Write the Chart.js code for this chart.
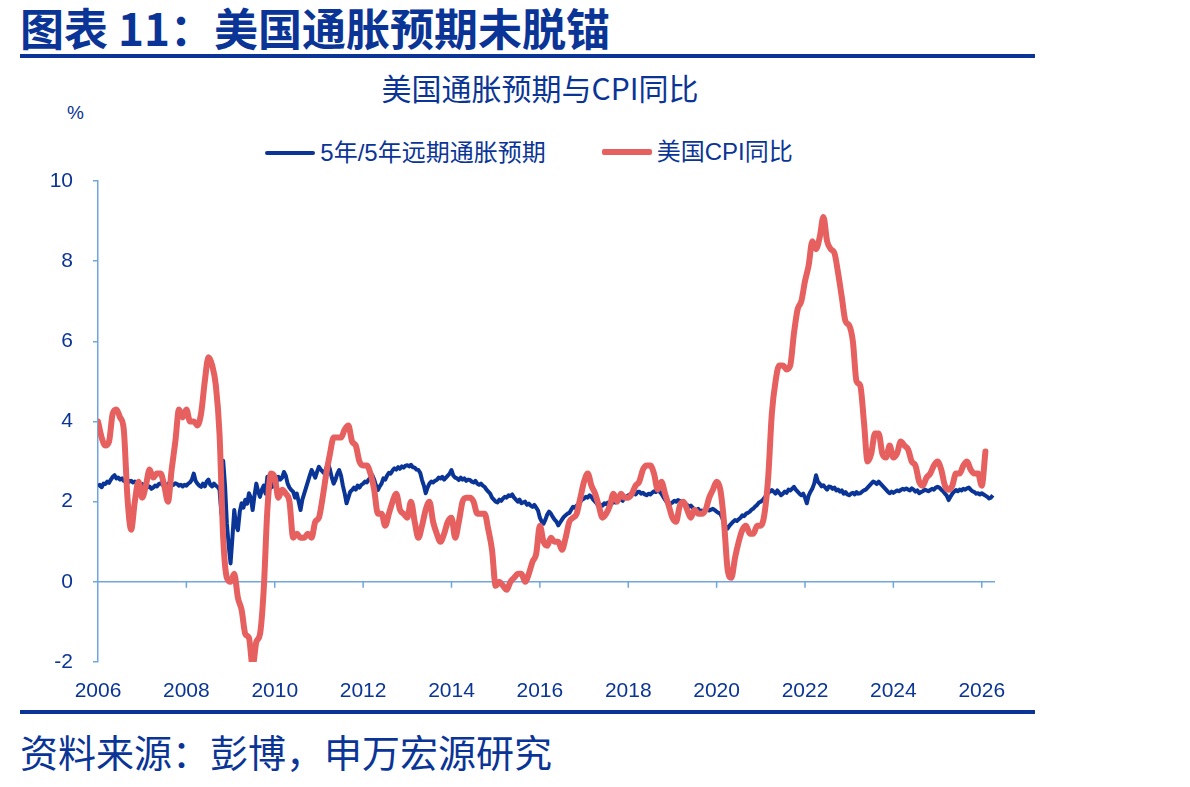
<!DOCTYPE html>
<html lang="zh">
<head>
  <meta charset="UTF-8">
  <title>美国通胀预期未脱锚</title>
  <script src="https://cdn.jsdelivr.net/npm/chart.js"></script>
  <style>
    body { margin: 0; width: 1190px; height: 787px; background: #fff; position: relative; overflow: hidden;
           font-family: "Liberation Sans", "Noto Sans CJK SC", sans-serif; color: #0a3596; }
    .abs { position: absolute; white-space: nowrap; }
    #title { left: 20px; top: 0px; font: bold 44px "Noto Sans CJK SC", sans-serif; line-height: 54px; }
    .rule { position: absolute; left: 20px; width: 1015px; height: 4px; background: #0a3596; }
    #subtitle { left: 0; width: 1080px; text-align: center; top: 68px; font: 30px "Noto Sans CJK SC", sans-serif; line-height: 38px; }
    #unit { left: 67px; top: 102px; font: 19px "Liberation Sans", sans-serif; }
    #legend { left: 0; width: 1058px; top: 132px; text-align: center; font: 24px "Liberation Sans", "Noto Sans CJK SC", sans-serif; line-height: 30px; }
    #legend span.item { display: inline-flex; align-items: center; margin: 0 28px; }
    #legend i { display: inline-block; width: 50px; margin-right: 5px; }
    #source { left: 20px; top: 727px; font: 38px "Noto Sans CJK SC", sans-serif; line-height: 48px; }
    #wrap { position: absolute; left: 0; top: 160px; width: 1040px; height: 545px; }
  </style>
</head>
<body>
  <div id="title" class="abs">图表 11：美国通胀预期未脱锚</div>
  <div class="rule" style="top: 54px;"></div>
  <div id="subtitle" class="abs">美国通胀预期与CPI同比</div>
  <div id="unit" class="abs">%</div>
  <div id="legend" class="abs"></div>
  <div id="wrap"><canvas id="chart"></canvas></div>
  <div class="rule" style="top: 710px;"></div>
  <div id="source" class="abs">资料来源：彭博，申万宏源研究</div>

  <script>
    // 横轴刻度（年份）
    const yearTicks = [2006, 2008, 2010, 2012, 2014, 2016, 2018, 2020, 2022, 2024, 2026];
    const yTicks = [-2, 0, 2, 4, 6, 8, 10];

    // 美国CPI同比，月度，2006年1月起
    const cpiStart = 2006;
    const cpiYoY = [
      4.0, 3.6, 3.4, 3.5, 4.2, 4.3, 4.1, 3.8, 2.1, 1.3, 2.0, 2.5,
      2.1, 2.4, 2.8, 2.6, 2.7, 2.7, 2.4, 2.0, 2.8, 3.5, 4.3, 4.1,
      4.3, 4.0, 4.0, 3.9, 4.2, 5.0, 5.6, 5.4, 4.9, 3.7, 1.1, 0.1,
      0.0, 0.2, -0.4, -0.7, -1.3, -1.4, -2.1, -1.5, -1.3, -0.2, 1.8, 2.7,
      2.6, 2.1, 2.3, 2.2, 2.0, 1.1, 1.2, 1.1, 1.1, 1.2, 1.1, 1.5,
      1.6, 2.1, 2.7, 3.2, 3.6, 3.6, 3.6, 3.8, 3.9, 3.5, 3.4, 3.0,
      2.9, 2.9, 2.7, 2.3, 1.7, 1.7, 1.4, 1.7, 2.0, 2.2, 1.8, 1.7,
      1.6, 2.0, 1.5, 1.1, 1.4, 1.8, 2.0, 1.5, 1.2, 1.0, 1.2, 1.5,
      1.6, 1.1, 1.5, 2.0, 2.1, 2.1, 2.0, 1.7, 1.7, 1.7, 1.3, 0.8,
      -0.1, 0.0, -0.1, -0.2, 0.0, 0.1, 0.2, 0.2, 0.0, 0.2, 0.5, 0.7,
      1.4, 1.0, 0.9, 1.1, 1.0, 1.0, 0.8, 1.1, 1.5, 1.6, 1.7, 2.1,
      2.5, 2.7, 2.4, 2.2, 1.9, 1.6, 1.7, 1.9, 2.2, 2.0, 2.2, 2.1,
      2.1, 2.2, 2.4, 2.5, 2.8, 2.9, 2.9, 2.7, 2.3, 2.5, 2.2, 1.9,
      1.6, 1.5, 1.9, 2.0, 1.8, 1.6, 1.8, 1.7, 1.7, 1.8, 2.1, 2.3,
      2.5, 2.3, 1.5, 0.3, 0.1, 0.6, 1.0, 1.3, 1.4, 1.2, 1.2, 1.4,
      1.4, 1.7, 2.6, 4.2, 5.0, 5.4, 5.4, 5.3, 5.4, 6.2, 6.8, 7.0,
      7.5, 7.9, 8.5, 8.3, 8.6, 9.1, 8.5, 8.3, 8.2, 7.7, 7.1, 6.5,
      6.4, 6.0, 5.0, 4.9, 4.0, 3.0, 3.2, 3.7, 3.7, 3.2, 3.1, 3.4,
      3.1, 3.2, 3.5, 3.4, 3.3, 3.0, 2.9, 2.5, 2.4, 2.6, 2.7, 2.9,
      3.0, 2.8, 2.4, 2.3, 2.4, 2.7, 2.7, 2.9, 3.0, 2.8, 2.7, 2.7,
      2.4, 3.25
    ];

    // 5年/5年远期通胀预期，半月频，2006年1月起
    const fwdStart = 2006;
    const fwd5y5y = [
      2.38, 2.42, 2.36, 2.45, 2.44, 2.50, 2.47, 2.55, 2.62, 2.66, 2.58, 2.60, 2.55, 2.58, 2.52, 2.56, 2.54, 2.50, 2.52, 2.48, 2.50, 2.46, 2.48, 2.45,
      2.44, 2.40, 2.42, 2.36, 2.38, 2.32, 2.35, 2.40, 2.38, 2.44, 2.46, 2.42, 2.45, 2.40, 2.44, 2.48, 2.45, 2.42, 2.46, 2.44, 2.40, 2.42, 2.38, 2.42,
      2.40, 2.45, 2.48, 2.55, 2.70, 2.52, 2.45, 2.40, 2.37, 2.45, 2.38, 2.50, 2.55, 2.42, 2.38, 2.45, 2.40, 2.37, 2.30, 1.70, 3.02, 2.40, 1.45, 0.90,
      0.46, 1.10, 1.79, 1.40, 1.29, 1.75, 1.96, 1.85, 2.05, 1.95, 2.21, 2.10, 1.79, 2.15, 2.45, 2.25, 2.12, 2.30, 2.40, 2.20, 2.62, 2.45, 2.35, 2.50,
      2.37, 2.50, 2.62, 2.55, 2.60, 2.74, 2.65, 2.45, 2.35, 2.29, 2.25, 2.10, 2.20, 2.00, 1.79, 2.05, 2.20, 2.35, 2.50, 2.65, 2.79, 2.70, 2.60, 2.75,
      2.87, 2.80, 2.75, 2.70, 2.85, 2.95, 2.80, 2.60, 2.45, 2.55, 2.70, 2.79, 2.65, 2.40, 2.20, 1.96, 2.10, 2.25, 2.29, 2.35, 2.30, 2.40, 2.35, 2.42,
      2.45, 2.50, 2.48, 2.55, 2.60, 2.66, 2.55, 2.40, 2.29, 2.38, 2.45, 2.58, 2.55, 2.65, 2.72, 2.70, 2.78, 2.83, 2.80, 2.86, 2.82, 2.88, 2.85, 2.90,
      2.91, 2.88, 2.92, 2.86, 2.85, 2.80, 2.79, 2.72, 2.54, 2.40, 2.21, 2.35, 2.45, 2.50, 2.48, 2.52, 2.54, 2.60, 2.58, 2.62, 2.55, 2.60, 2.65, 2.70,
      2.79, 2.65, 2.60, 2.58, 2.54, 2.60, 2.55, 2.58, 2.52, 2.55, 2.54, 2.50, 2.48, 2.52, 2.45, 2.42, 2.45, 2.40, 2.37, 2.30, 2.25, 2.20, 2.10, 2.05,
      2.00, 1.98, 2.05, 2.02, 2.08, 2.12, 2.10, 2.16, 2.14, 2.18, 2.10, 2.05, 2.00, 2.05, 1.96, 1.98, 2.00, 1.92, 1.95, 1.90, 1.87, 1.92, 1.85, 1.78,
      1.60, 1.50, 1.45, 1.55, 1.68, 1.75, 1.70, 1.62, 1.55, 1.50, 1.41, 1.48, 1.55, 1.62, 1.66, 1.70, 1.72, 1.80, 1.87, 1.85, 1.90, 1.95, 2.00, 2.05,
      2.08, 2.12, 2.10, 2.16, 2.12, 2.05, 2.00, 1.95, 1.87, 1.92, 1.90, 1.96, 1.94, 1.98, 1.96, 1.95, 2.00, 1.98, 2.02, 2.04, 2.06, 2.02, 2.10, 2.12,
      2.16, 2.18, 2.20, 2.22, 2.18, 2.24, 2.25, 2.20, 2.22, 2.18, 2.16, 2.20, 2.18, 2.22, 2.26, 2.24, 2.29, 2.25, 2.20, 2.12, 2.05, 1.98, 1.91, 1.95,
      1.98, 2.02, 2.00, 2.04, 2.02, 1.98, 2.00, 1.95, 1.92, 1.87, 1.90, 1.85, 1.80, 1.78, 1.82, 1.75, 1.78, 1.76, 1.80, 1.82, 1.78, 1.80, 1.82, 1.79,
      1.75, 1.72, 1.70, 1.60, 1.45, 1.38, 1.33, 1.40, 1.45, 1.50, 1.54, 1.52, 1.56, 1.60, 1.66, 1.64, 1.70, 1.72, 1.75, 1.80, 1.83, 1.88, 1.92, 1.98,
      2.00, 2.04, 2.10, 2.15, 2.22, 2.25, 2.29, 2.25, 2.20, 2.28, 2.22, 2.16, 2.20, 2.25, 2.22, 2.30, 2.28, 2.32, 2.37, 2.30, 2.25, 2.20, 2.16, 2.20,
      2.10, 1.96, 2.15, 2.25, 2.33, 2.45, 2.66, 2.50, 2.45, 2.38, 2.41, 2.35, 2.30, 2.38, 2.37, 2.32, 2.35, 2.28, 2.30, 2.25, 2.28, 2.20, 2.24, 2.18,
      2.16, 2.20, 2.22, 2.18, 2.24, 2.20, 2.21, 2.25, 2.28, 2.30, 2.35, 2.40, 2.45, 2.50, 2.48, 2.44, 2.50, 2.45, 2.40, 2.35, 2.30, 2.25, 2.21, 2.25,
      2.22, 2.25, 2.28, 2.26, 2.29, 2.32, 2.30, 2.33, 2.30, 2.28, 2.33, 2.30, 2.25, 2.28, 2.21, 2.24, 2.26, 2.30, 2.28, 2.26, 2.29, 2.32, 2.30, 2.35,
      2.37, 2.35, 2.30, 2.26, 2.20, 2.15, 2.04, 2.12, 2.20, 2.25, 2.29, 2.26, 2.30, 2.28, 2.32, 2.30, 2.33, 2.35, 2.30, 2.26, 2.24, 2.20, 2.21, 2.18,
      2.21, 2.18, 2.15, 2.12, 2.08, 2.10, 2.16
    ];

    const seriesNames = ['5年/5年远期通胀预期', '美国CPI同比'];
    const seriesColors = ['#0a3596', '#e5605e'];
    const seriesWidths = [4, 6];

    const axisColor = '#6fa6dd';
    const textColor = '#0a3596';

    const fwdPoints = fwd5y5y.map((v, i) => ({ x: fwdStart + i / 24, y: v }));
    const cpiPoints = cpiYoY.map((v, i) => ({ x: cpiStart + i / 12, y: v }));

    // 图例
    const legend = document.getElementById('legend');
    seriesNames.forEach((name, i) => {
      const item = document.createElement('span');
      item.className = 'item';
      item.innerHTML = `<i style="height:${seriesWidths[i]}px;background:${seriesColors[i]};border-radius:2px"></i>${name}`;
      legend.appendChild(item);
    });

    // 0轴及其刻度
    const zeroAxis = {
      id: 'zeroAxis',
      beforeDatasetsDraw(chart) {
        const { ctx, chartArea, scales } = chart;
        const y0 = scales.y.getPixelForValue(0);
        ctx.save();
        ctx.strokeStyle = axisColor;
        ctx.lineWidth = 1.5;
        ctx.beginPath();
        ctx.moveTo(chartArea.left, y0);
        ctx.lineTo(chartArea.right, y0);
        yearTicks.slice(1).forEach(t => {
          const x = scales.x.getPixelForValue(t);
          ctx.moveTo(x, y0);
          ctx.lineTo(x, y0 + 6);
        });
        ctx.stroke();
        ctx.restore();
      }
    };

    new Chart(document.getElementById('chart').getContext('2d'), {
      type: 'line',
      data: {
        datasets: [
          {
            label: seriesNames[1],
            data: cpiPoints,
            borderColor: seriesColors[1],
            borderWidth: seriesWidths[1],
            pointRadius: 0,
            cubicInterpolationMode: 'monotone',
            borderJoinStyle: 'round',
            borderCapStyle: 'round',
            order: 0
          },
          {
            label: seriesNames[0],
            data: fwdPoints,
            borderColor: seriesColors[0],
            borderWidth: seriesWidths[0],
            pointRadius: 0,
            tension: 0,
            borderJoinStyle: 'round',
            order: 1
          }
        ]
      },
      options: {
        responsive: true,
        maintainAspectRatio: false,
        animation: false,
        layout: { padding: { top: 21, right: 45, left: 0, bottom: 0 } },
        plugins: { legend: { display: false }, tooltip: { enabled: false } },
        scales: {
          x: {
            type: 'linear',
            min: 2006,
            max: 2026.3,
            afterBuildTicks: scale => { scale.ticks = yearTicks.map(v => ({ value: v })); },
            afterFit: scale => { scale.height = 43; scale.paddingLeft = 0; scale.paddingRight = 0; },
            border: { display: false },
            grid: { display: false },
            ticks: {
              color: textColor,
              font: { family: 'Liberation Sans', size: 21 },
              padding: 9,
              maxRotation: 0,
              autoSkip: false,
              callback: v => String(v)
            }
          },
          y: {
            min: -2,
            max: 10,
            afterBuildTicks: scale => { scale.ticks = yTicks.map(v => ({ value: v })); },
            afterFit: scale => { scale.width = 98; scale.paddingTop = 0; scale.paddingBottom = 0; },
            border: { display: true, color: axisColor, width: 1.5 },
            grid: { drawOnChartArea: false, color: axisColor, tickLength: 5, lineWidth: 1.5 },
            ticks: {
              color: textColor,
              font: { family: 'Liberation Sans', size: 21 },
              padding: 20
            }
          }
        }
      },
      plugins: [zeroAxis]
    });
  </script>
</body>
</html>
